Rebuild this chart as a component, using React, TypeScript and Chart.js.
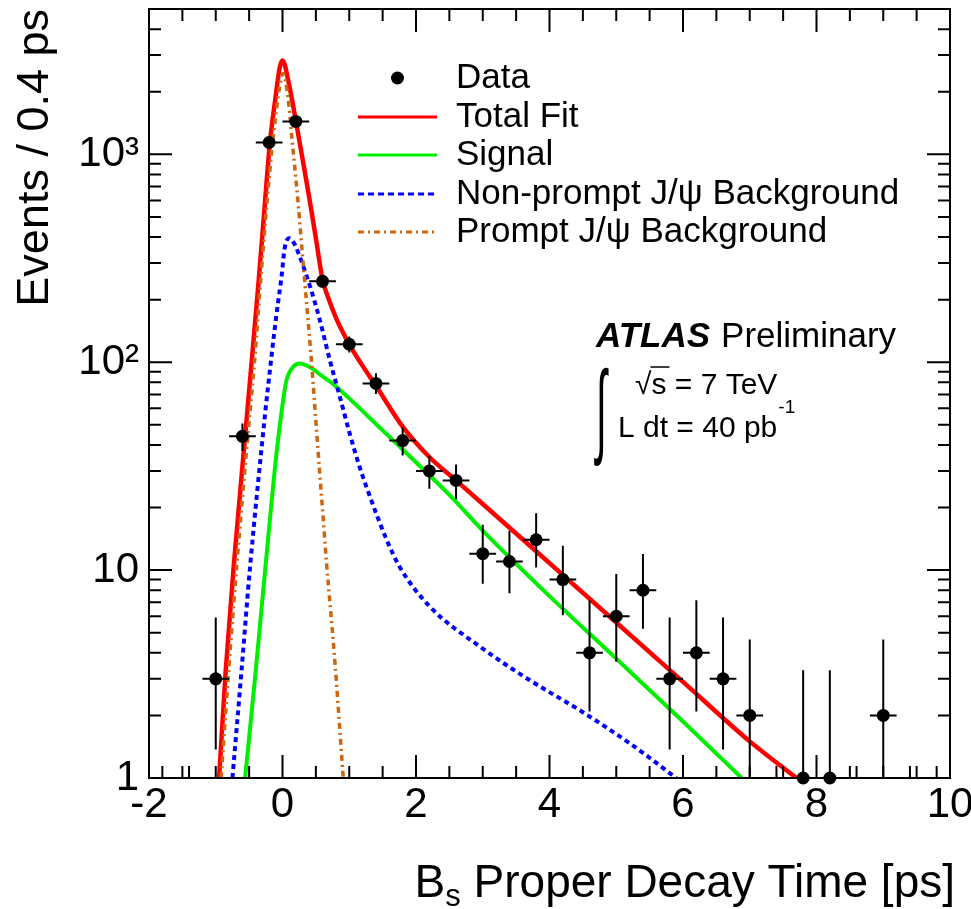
import React, { useEffect, useRef } from "react";
import { Chart, registerables } from "chart.js";

Chart.register(...registerables);

const FONT = '"Liberation Sans", Arial, Helvetica, sans-serif';

// ---- Data points (bin centres, counts, Poisson error band) ----
const binCenters = [-1.0, -0.6, -0.2, 0.2, 0.6, 1.0, 1.4, 1.8, 2.2, 2.6, 3.0, 3.4, 3.8, 4.2, 4.6, 5.0, 5.4, 5.8, 6.2, 6.6, 7.0, 7.8, 8.2, 9.0];
const counts = [3, 44, 1140, 1440, 245, 122, 79, 42, 30, 27, 12, 11, 14, 9, 4, 6, 8, 3, 4, 3, 2, 1, 1, 2];
const errLow = [1.37, 37.4, 1106, 1402, 229.8, 111.5, 70.3, 35.6, 24.6, 21.9, 8.59, 7.74, 10.3, 6.06, 2.09, 3.62, 5.23, 1.37, 2.09, 1.37, 0.71, 0.17, 0.17, 0.71];
const errHigh = [5.92, 50.7, 1174, 1478, 261.2, 133.0, 88.4, 48.5, 35.5, 32.2, 16.54, 15.4, 18.78, 13.11, 7.16, 9.58, 11.94, 5.92, 7.16, 5.92, 4.64, 3.3, 3.3, 4.64];
const binHalfWidth = 0.2;

// ---- Fit curves ----
const totalFitX = [-0.95, -0.85, -0.73, -0.56, -0.46, -0.36, -0.26, -0.19, -0.11, -0.04, 0, 0.1, 0.2, 0.3, 0.4, 0.5, 0.6, 0.7, 0.8, 0.9, 1.0, 1.2, 1.4, 1.8, 2.2, 2.6, 3, 4, 5, 6, 7, 7.7];
const totalFitY = [1, 3.3, 10.5, 44, 102, 240, 600, 1125, 1820, 2630, 2830, 2150, 1450, 950, 620, 395, 250, 198, 164, 140, 122, 96, 77, 49, 35, 27, 20.8, 10.8, 5.6, 2.9, 1.5, 1.0];

const signalX = [-0.56, -0.4, -0.26, -0.09, 0.01, 0.06, 0.16, 0.26, 0.4, 0.61, 0.75, 1.0, 1.5, 2.0, 2.5, 3, 4, 5, 6, 6.88];
const signalY = [1, 3.3, 10, 36.4, 65.7, 82, 95, 98.6, 95, 85, 79, 67, 47, 33, 23, 15.5, 7.5, 3.75, 1.87, 1.0];

const nonPromptX = [-0.75, -0.61, -0.49, -0.26, -0.16, -0.09, -0.01, 0.03, 0.1, 0.18, 0.26, 0.41, 0.56, 0.71, 0.86, 1.01, 1.16, 1.26, 1.41, 1.56, 1.76, 2.21, 2.96, 3.7, 4.45, 5.2, 5.9];
const nonPromptY = [1, 3.4, 10, 56.7, 110, 170, 265, 350, 395, 370, 321, 233, 159, 102, 68, 45, 31, 25, 18.5, 14, 10.3, 6.66, 4.28, 2.96, 2.12, 1.47, 1.0];

const promptX = [-0.92, -0.8, -0.68, -0.52, -0.42, -0.33, -0.23, -0.16, -0.1, -0.05, 0.01, 0.085, 0.136, 0.186, 0.235, 0.285, 0.335, 0.435, 0.51, 0.585, 0.66, 0.78, 0.91];
const promptY = [1, 3.5, 11, 44, 100, 240, 600, 1050, 1550, 2050, 2450, 1850, 1250, 850, 580, 370, 240, 100, 47, 22.5, 10.8, 3.8, 1];

// ---- Axes ----
const xTickValues = [-2, 0, 2, 4, 6, 8, 10];
const xTickLabels = ["-2", "0", "2", "4", "6", "8", "10"];
const xExtraBottomTicks = [-1.8, -1.4, 7.4, 8.6, 9.4, 9.8];
const yTickValues = [1, 10, 100, 1000];
const yTickLabels = ["1", "10", "10\u00B2", "10\u00B3"];
const xMin = -2, xMax = 10, yMin = 1, yMax = 5000;

const legendLabels = ["Data", "Total Fit", "Signal", "Non-prompt J/\u03C8 Background", "Prompt J/\u03C8 Background"];

const RED = "#ff0000";
const GREEN = "#00ee00";
const BLUE = "#0000ff";
const ORANGE = "#cc6611";

function toPts(xs: number[], ys: number[]) {
  return xs.map((x, i) => ({ x, y: ys[i] }));
}

const atlasPlugin = {
  id: "atlasDecor",
  beforeDatasetDraw(chart: any, args: any) {
    if (args.index !== 0) return;
    const { ctx, chartArea: ca } = chart;
    const xs = chart.scales.x, ys = chart.scales.y;
    ctx.save();
    ctx.beginPath();
    ctx.rect(ca.left, ca.top, ca.right - ca.left, ca.bottom - ca.top);
    ctx.clip();
    ctx.strokeStyle = "#000";
    ctx.lineWidth = 2;
    ctx.beginPath();
    for (let i = 0; i < binCenters.length; i++) {
      const px = xs.getPixelForValue(binCenters[i]);
      const py = ys.getPixelForValue(counts[i]);
      ctx.moveTo(xs.getPixelForValue(binCenters[i] - binHalfWidth), py);
      ctx.lineTo(xs.getPixelForValue(binCenters[i] + binHalfWidth), py);
      ctx.moveTo(px, ys.getPixelForValue(errLow[i]));
      ctx.lineTo(px, ys.getPixelForValue(errHigh[i]));
    }
    ctx.stroke();
    ctx.restore();
  },
  afterDraw(chart: any) {
    const { ctx, chartArea: ca } = chart;
    const xs = chart.scales.x, ys = chart.scales.y;
    ctx.save();
    // frame
    ctx.strokeStyle = "#000";
    ctx.lineWidth = 2;
    ctx.strokeRect(ca.left, ca.top, ca.right - ca.left, ca.bottom - ca.top);
    // ticks
    ctx.beginPath();
    for (let k = 0; k <= (xMax - xMin) * 2; k++) {
      const v = xMin + k * 0.5;
      const px = xs.getPixelForValue(v);
      const major = k % 4 === 0;
      const len = major ? 23 : 12;
      ctx.moveTo(px, ca.bottom);
      ctx.lineTo(px, ca.bottom - len);
      ctx.moveTo(px, ca.top);
      ctx.lineTo(px, ca.top + len);
    }
    for (const v of xExtraBottomTicks) {
      const px = xs.getPixelForValue(v);
      ctx.moveTo(px, ca.bottom);
      ctx.lineTo(px, ca.bottom - 12);
    }
    for (let d = yMin; d <= yMax; d *= 10) {
      for (let m = 1; m <= 9; m++) {
        const v = d * m;
        if (v > yMax) break;
        const py = ys.getPixelForValue(v);
        const len = m === 1 ? 23 : 12;
        ctx.moveTo(ca.left, py);
        ctx.lineTo(ca.left + len, py);
        ctx.moveTo(ca.right, py);
        ctx.lineTo(ca.right - len, py);
      }
    }
    ctx.stroke();

    // legend
    const rows = [78, 117, 155, 194, 232];
    const lx0 = 358, lx1 = 437, tx = 456;
    ctx.fillStyle = "#000";
    ctx.beginPath();
    ctx.arc((lx0 + lx1) / 2, rows[0], 6.5, 0, Math.PI * 2);
    ctx.fill();
    const styles = [
      { c: RED, d: [] as number[] },
      { c: GREEN, d: [] as number[] },
      { c: BLUE, d: [6, 4] },
      { c: ORANGE, d: [6, 4, 2, 4] },
    ];
    styles.forEach((s, i) => {
      ctx.beginPath();
      ctx.strokeStyle = s.c;
      ctx.lineWidth = 3;
      ctx.setLineDash(s.d);
      ctx.moveTo(lx0, rows[i + 1]);
      ctx.lineTo(lx1, rows[i + 1]);
      ctx.stroke();
    });
    ctx.setLineDash([]);
    ctx.strokeStyle = "#000";
    ctx.font = `35px ${FONT}`;
    ctx.textBaseline = "middle";
    ctx.textAlign = "left";
    legendLabels.forEach((t, i) => ctx.fillText(t, tx, rows[i]));

    // ATLAS label
    ctx.textBaseline = "alphabetic";
    ctx.font = `italic bold 35px ${FONT}`;
    ctx.fillText("ATLAS", 596, 347);
    const wA = ctx.measureText("ATLAS").width;
    ctx.font = `35px ${FONT}`;
    ctx.fillText("Preliminary", 596 + wA + 11, 347);

    // sqrt(s) line
    ctx.font = `30px ${FONT}`;
    const sx = 635;
    ctx.fillText("\u221A", sx, 394);
    const wSq = ctx.measureText("\u221A").width;
    ctx.fillText("s = 7 TeV", sx + wSq, 394);
    const wS = ctx.measureText("s").width;
    ctx.lineWidth = 1.5;
    ctx.strokeStyle = "#000";
    ctx.beginPath();
    ctx.moveTo(sx + wSq - 1, 367);
    ctx.lineTo(sx + wSq + wS + 3, 367);
    ctx.stroke();

    // integral
    ctx.save();
    ctx.translate(596, 444);
    ctx.scale(0.6, 1.6);
    ctx.font = `65px ${FONT}`;
    ctx.fillText("\u222B", 0, 0);
    ctx.restore();

    ctx.font = `30px ${FONT}`;
    const lumi = "L dt = 40 pb";
    ctx.fillText(lumi, 618, 437);
    const wL = ctx.measureText(lumi).width;
    ctx.font = `19px ${FONT}`;
    ctx.fillText("-1", 618 + wL + 1, 413);

    // x-axis title with subscript
    const big = `46px ${FONT}`, small = `31px ${FONT}`;
    const rest = " Proper Decay Time [ps]";
    ctx.font = big;
    const wB = ctx.measureText("B").width;
    const wRest = ctx.measureText(rest).width;
    ctx.font = small;
    const wSub = ctx.measureText("s").width;
    const right = 955, base = 897;
    const x0 = right - (wB + wSub + wRest);
    ctx.font = big;
    ctx.fillText("B", x0, base);
    ctx.font = small;
    ctx.fillText("s", x0 + wB, base + 9);
    ctx.font = big;
    ctx.fillText(rest, x0 + wB + wSub, base);
    ctx.restore();
  },
};

export default function App() {
  const ref = useRef<HTMLCanvasElement | null>(null);

  useEffect(() => {
    document.body.style.margin = "0";
    const canvas = ref.current;
    if (!canvas) return;
    const chart = new Chart(canvas, {
      type: "line",
      data: {
        datasets: [
          {
            label: "Data",
            data: toPts(binCenters, counts),
            showLine: false,
            pointRadius: 6.5,
            pointBackgroundColor: "#000",
            pointBorderColor: "#000",
            pointBorderWidth: 0,
            borderColor: "#000",
            clip: false as any,
            order: 0,
          },
          {
            label: "Prompt J/\u03C8 Background",
            data: toPts(promptX, promptY),
            borderColor: ORANGE,
            borderWidth: 3.5,
            borderDash: [6, 4, 2, 4],
            pointRadius: 0,
            cubicInterpolationMode: "monotone",
            fill: false,
            order: 1,
          },
          {
            label: "Non-prompt J/\u03C8 Background",
            data: toPts(nonPromptX, nonPromptY),
            borderColor: BLUE,
            borderWidth: 4,
            borderDash: [5, 4],
            pointRadius: 0,
            cubicInterpolationMode: "monotone",
            fill: false,
            order: 2,
          },
          {
            label: "Signal",
            data: toPts(signalX, signalY),
            borderColor: GREEN,
            borderWidth: 4,
            pointRadius: 0,
            cubicInterpolationMode: "monotone",
            fill: false,
            order: 3,
          },
          {
            label: "Total Fit",
            data: toPts(totalFitX, totalFitY),
            borderColor: RED,
            borderWidth: 4.5,
            pointRadius: 0,
            cubicInterpolationMode: "monotone",
            fill: false,
            order: 4,
          },
        ],
      },
      options: {
        responsive: false,
        animation: false,
        devicePixelRatio: 1,
        events: [],
        layout: { padding: { left: 0, top: 9, right: 21, bottom: 0 } },
        plugins: { legend: { display: false }, tooltip: { enabled: false } },
        scales: {
          x: {
            type: "linear",
            min: xMin,
            max: xMax,
            grid: { display: false, drawTicks: false },
            border: { display: false },
            afterBuildTicks: (s: any) => {
              s.ticks = xTickValues.map((v) => ({ value: v }));
            },
            afterFit: (s: any) => {
              s.height = 131;
              s.paddingLeft = 0;
              s.paddingRight = 0;
            },
            ticks: {
              autoSkip: false,
              maxRotation: 0,
              padding: 2,
              color: "#000",
              font: { family: FONT, size: 42 },
              callback: (v: any) => {
                const i = xTickValues.indexOf(Number(v));
                return i >= 0 ? xTickLabels[i] : "";
              },
            },
            title: { display: false },
          },
          y: {
            type: "logarithmic",
            min: yMin,
            max: yMax,
            grid: { display: false, drawTicks: false },
            border: { display: false },
            afterBuildTicks: (s: any) => {
              s.ticks = yTickValues.map((v) => ({ value: v }));
            },
            afterFit: (s: any) => {
              s.width = 149;
              s.paddingTop = 0;
              s.paddingBottom = 0;
            },
            ticks: {
              autoSkip: false,
              padding: 10,
              color: "#000",
              font: { family: FONT, size: 42 },
              callback: (v: any) => {
                const i = yTickValues.indexOf(Number(v));
                return i >= 0 ? yTickLabels[i] : "";
              },
            },
            title: {
              display: true,
              text: "Events / 0.4 ps",
              align: "end",
              color: "#000",
              font: { family: FONT, size: 45 },
              padding: { top: 9, bottom: 0 },
            },
          },
        },
      },
      plugins: [atlasPlugin],
    } as any);
    return () => chart.destroy();
  }, []);

  return (
    <div style={{ position: "absolute", left: 0, top: 0, width: 971, height: 909 }}>
      <canvas ref={ref} width={971} height={909} style={{ width: 971, height: 909, display: "block" }} />
    </div>
  );
}
